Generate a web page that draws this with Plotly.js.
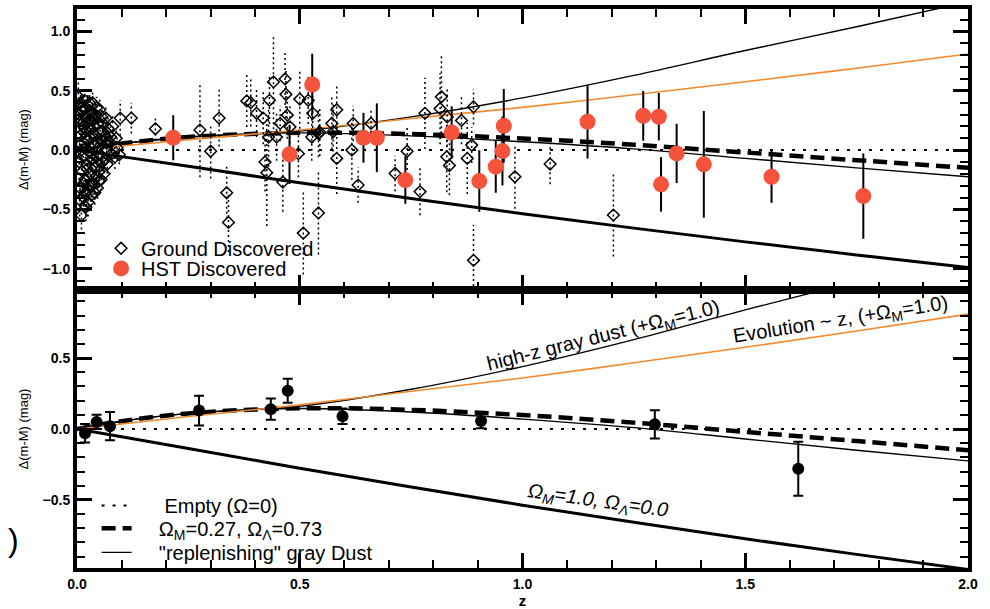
<!DOCTYPE html>
<html><head><meta charset="utf-8">
<script src="https://cdn.plot.ly/plotly-3.0.1.min.js"></script>
<style>html,body{margin:0;padding:0;background:#fff}</style>
</head><body><div id="chart" style="width:990px;height:609px"></div>
<script>
// ---- model curves ----
const zCurve    = [0, 0.1, 0.25, 0.5, 0.75, 1.0, 1.25, 1.5, 1.75, 2.0];
const empty     = [0, 0, 0, 0, 0, 0, 0, 0, 0, 0];
const lcdm      = [0, 0.055, 0.11, 0.146, 0.135, 0.098, 0.045, -0.02, -0.085, -0.15];
const replenish = [0, 0.055, 0.11, 0.145, 0.12, 0.07, 0.01, -0.07, -0.15, -0.225];
const omegaM1   = [0, -0.055, -0.137, -0.276, -0.409, -0.537, -0.658, -0.774, -0.884, -0.99];
const highzDust = [0, 0.055, 0.11, 0.16, 0.28, 0.44, 0.63, 0.84, 1.04, 1.25];
const evolution = [0, 0.035, 0.088, 0.17, 0.266, 0.36, 0.467, 0.576, 0.691, 0.81];

// ---- ground discovered SNe (top panel) ----
const groundZ = [0.004,0.005,0.006,0.007,0.008,0.009,0.010,0.011,0.012,0.013,0.014,0.015,0.016,0.017,0.018,0.019,0.020,0.021,0.022,0.023,0.024,0.025,0.026,0.027,0.028,0.029,0.030,0.031,0.032,0.033,0.034,0.035,0.036,0.037,0.038,0.039,0.040,0.041,0.042,0.043,0.044,0.045,0.046,0.047,0.048,0.050,0.051,0.052,0.054,0.055,0.056,0.058,0.060,0.061,0.063,0.065,0.066,0.068,0.070,0.072,0.075,0.078,0.080,0.085,0.088,0.090,0.095,
  0.003,0.006,0.009,0.012,0.015,0.018,0.021,0.024,0.027,0.030,0.033,0.036,0.039,0.043,0.046,0.049,0.053,0.057,0.062,0.067,0.010,0.014,0.019,0.023,0.028,
  0.097,0.122,0.176,0.276,0.300,0.319,0.336,0.340,0.381,0.390,0.403,0.418,0.422,0.426,0.432,0.441,0.430,0.448,0.456,0.462,0.467,0.469,0.472,0.478,0.497,0.500,0.519,0.529,0.527,0.542,0.508,0.542,0.583,0.583,0.572,0.575,0.545,0.617,0.620,0.631,0.660,0.714,0.741,0.770,0.781,0.815,0.818,0.831,0.830,0.836,0.863,0.876,0.886,0.890,0.890,0.983,1.062,1.204];
const groundV = [0.30,-0.10,0.12,-0.32,0.40,0.05,-0.55,0.22,-0.18,0.33,-0.05,-0.40,0.15,0.42,-0.25,0.02,-0.48,0.28,-0.12,0.08,0.38,-0.44,-0.30,0.18,-0.02,0.33,-0.20,0.10,-0.38,0.25,-0.08,0.40,-0.28,0.05,0.20,-0.15,-0.36,0.30,0.12,-0.22,0.36,-0.05,-0.32,0.22,0.02,-0.18,0.34,0.15,-0.25,0.08,0.28,-0.10,0.22,-0.20,0.12,0.27,0.00,-0.12,0.18,0.07,0.11,-0.03,0.20,-0.06,0.10,0.02,-0.04,
  0.45,-0.42,0.25,0.36,-0.28,0.10,-0.35,0.24,-0.10,0.30,-0.30,0.14,0.26,-0.10,0.06,-0.26,-0.04,0.16,-0.08,0.06,0.00,0.20,-0.36,-0.16,0.40,
  0.27,0.27,0.18,0.17,-0.01,0.27,-0.36,-0.61,0.415,0.40,0.31,0.27,-0.10,-0.19,0.42,0.575,0.11,0.11,0.225,-0.27,0.60,0.47,0.295,0.196,-0.03,0.43,0.42,0.31,0.11,0.14,-0.70,-0.53,0.34,-0.07,0.225,0.154,0.15,0.00,0.225,-0.295,0.225,-0.197,-0.01,-0.35,0.31,0.35,0.45,0.28,-0.056,-0.13,0.25,-0.07,0.042,0.365,-0.93,-0.225,-0.118,-0.548];
const groundErr = [0.12,0.15,0.12,0.14,0.12,0.10,0.12,0.10,0.12,0.10,0.10,0.12,0.10,0.10,0.10,0.09,0.12,0.10,0.10,0.09,0.10,0.12,0.10,0.09,0.09,0.10,0.10,0.08,0.10,0.09,0.08,0.10,0.10,0.08,0.08,0.08,0.10,0.09,0.08,0.08,0.09,0.08,0.09,0.08,0.08,0.08,0.10,0.08,0.09,0.08,0.08,0.08,0.08,0.08,0.08,0.09,0.08,0.08,0.09,0.08,0.09,0.08,0.10,0.10,0.08,0.10,0.08,
  0.15,0.14,0.12,0.12,0.12,0.10,0.12,0.10,0.10,0.10,0.10,0.09,0.09,0.10,0.08,0.10,0.08,0.09,0.08,0.08,0.10,0.10,0.12,0.10,0.12,
  0.15,0.13,0.10,0.40,0.23,0.24,0.22,0.25,0.22,0.20,0.20,0.22,0.25,0.45,0.20,0.40,0.25,0.20,0.15,0.25,0.22,0.20,0.20,0.18,0.20,0.25,0.20,0.25,0.20,0.20,0.35,0.35,0.20,0.30,0.22,0.25,0.20,0.25,0.15,0.15,0.12,0.15,0.20,0.20,0.30,0.30,0.35,0.25,0.30,0.25,0.20,0.30,0.15,0.15,0.30,0.27,0.17,0.35];

// ---- HST discovered SNe (top panel) ----
const hstZ   = [0.216,0.477,0.528,0.643,0.673,0.737,0.841,0.903,0.940,0.955,0.958,1.146,1.271,1.306,1.311,1.346,1.407,1.559,1.765];
const hstV   = [0.104,-0.036,0.553,0.104,0.104,-0.253,0.149,-0.261,-0.14,-0.008,0.205,0.239,0.289,0.281,-0.289,-0.028,-0.12,-0.225,-0.388];
const hstErr = [0.19,0.25,0.26,0.21,0.29,0.20,0.22,0.26,0.22,0.29,0.31,0.31,0.21,0.20,0.23,0.25,0.45,0.22,0.36];

// ---- binned data (bottom panel) ----
const binZ   = [0.018,0.044,0.074,0.274,0.435,0.473,0.596,0.907,1.297,1.619];
const binV   = [-0.03,0.05,0.02,0.13,0.14,0.27,0.09,0.056,0.033,-0.28];
const binErr = [0.065,0.05,0.10,0.105,0.075,0.085,0.055,0.05,0.10,0.19];

const FONT = 'Liberation Sans, Arial, Helvetica, sans-serif';

function curves(xa, ya, legendOn) {
  return [
    {x: zCurve, y: empty, xaxis: xa, yaxis: ya, mode: 'lines', name: '\u00a0\u00a0\u00a0\u00a0\u00a0Empty (\u03a9=0)',
     line: {color: 'black', width: 2, dash: '3px,8px'}, showlegend: legendOn, legend: 'legend3'},
    {x: zCurve, y: lcdm, xaxis: xa, yaxis: ya, mode: 'lines', line: {color: 'black', width: 4.5, dash: '14px,7px', shape: 'spline'},
     name: '\u00a0\u00a0\u00a0\u00a0\u03a9<sub>M</sub>=0.27, \u03a9<sub>\u039b</sub>=0.73', showlegend: legendOn, legend: 'legend4'},
    {x: zCurve, y: replenish, xaxis: xa, yaxis: ya, mode: 'lines', line: {color: 'black', width: 1.4, shape: 'spline'},
     name: '\u00a0\u00a0\u00a0\u00a0"replenishing" gray Dust', showlegend: legendOn, legend: 'legend5'},
    {x: zCurve, y: omegaM1, xaxis: xa, yaxis: ya, mode: 'lines', line: {color: 'black', width: 3, shape: 'spline'}, showlegend: false},
    {x: zCurve, y: highzDust, xaxis: xa, yaxis: ya, mode: 'lines', line: {color: 'black', width: 1.4, shape: 'spline'}, showlegend: false},
    {x: zCurve, y: evolution, xaxis: xa, yaxis: ya, mode: 'lines', line: {color: '#F08A2C', width: 1.6, shape: 'spline'}, showlegend: false}
  ];
}

// dotted error bars for ground SNe, built from the arrays
const gx = [], gy = [];
groundZ.forEach((z, i) => { gx.push(z, z, null); gy.push(groundV[i] - groundErr[i], groundV[i] + groundErr[i], null); });

const traces = [].concat(
  curves('x2', 'y2', false),
  [{x: gx, y: gy, xaxis: 'x2', yaxis: 'y2', mode: 'lines', line: {color: 'black', width: 1.5, dash: '2px,3px'}, showlegend: false, connectgaps: false},
   {x: groundZ, y: groundV, xaxis: 'x2', yaxis: 'y2', mode: 'markers', name: 'Ground Discovered', legend: 'legend',
    marker: {symbol: 'diamond-open', size: 9, color: 'black', line: {width: 1.5, color: 'black'}}},
   {x: hstZ, y: hstV, xaxis: 'x2', yaxis: 'y2', mode: 'markers', name: 'HST Discovered', legend: 'legend2',
    error_y: {type: 'data', array: hstErr, visible: true, color: 'black', thickness: 2, width: 0},
    marker: {symbol: 'circle', size: 16, color: '#F5533B'}}],
  curves('x', 'y', true),
  [{x: binZ, y: binV, xaxis: 'x', yaxis: 'y', mode: 'markers', showlegend: false,
    error_y: {type: 'data', array: binErr, visible: true, color: 'black', thickness: 2, width: 5},
    marker: {symbol: 'circle', size: 12, color: 'black'}}]
);

const axisCommon = {
  showline: true, linewidth: 4, linecolor: 'black', mirror: 'allticks',
  ticks: 'inside', ticklen: 15, tickwidth: 3, tickcolor: 'black',
  showgrid: false, zeroline: false,
  tickfont: {family: FONT, size: 14, weight: 'bold', color: 'black'},
  minor: {ticks: 'inside', ticklen: 8, tickwidth: 2, tickcolor: 'black'}
};

const legendCommon = {bgcolor: 'rgba(0,0,0,0)', borderwidth: 0, font: {family: FONT, size: 20, color: 'black'},
  xanchor: 'left', yanchor: 'middle', tracegroupgap: 0};

const layout = {
  width: 990, height: 609,
  margin: {l: 77, r: 22, t: 9, b: 41},
  paper_bgcolor: 'white', plot_bgcolor: 'white',
  font: {family: FONT, color: 'black'},
  xaxis: Object.assign({}, axisCommon, {domain: [0, 1], range: [0, 2], anchor: 'y', tick0: 0, dtick: 0.5, tickformat: '.1f',
    minor: Object.assign({}, axisCommon.minor, {dtick: 0.1}),
    title: {text: 'z', font: {family: FONT, size: 15, weight: 'bold'}, standoff: 4}}),
  yaxis: Object.assign({}, axisCommon, {domain: [0, 0.4973], range: [-0.98, 0.98], anchor: 'x', tick0: 0, dtick: 0.5, tickformat: '.1f',
    minor: Object.assign({}, axisCommon.minor, {dtick: 0.1}),
    title: {text: '\u0394(m-M) (mag)', font: {family: FONT, size: 13}, standoff: 12}}),
  xaxis2: Object.assign({}, axisCommon, {domain: [0, 1], range: [0, 2], anchor: 'y2', matches: 'x', tick0: 0, dtick: 0.5, showticklabels: false,
    minor: Object.assign({}, axisCommon.minor, {dtick: 0.1})}),
  yaxis2: Object.assign({}, axisCommon, {domain: [0.4973, 1], range: [-1.18, 1.19], anchor: 'x2', tick0: 0, dtick: 0.5, tickformat: '.1f',
    minor: Object.assign({}, axisCommon.minor, {dtick: 0.1}),
    title: {text: '\u0394(m-M) (mag)', font: {family: FONT, size: 13}, standoff: 12}}),
  legend:  Object.assign({}, legendCommon, {x: 0.027, y: 0.572}),
  legend2: Object.assign({}, legendCommon, {x: 0.027, y: 0.536}),
  legend3: Object.assign({}, legendCommon, {x: 0.022, y: 0.112}),
  legend4: Object.assign({}, legendCommon, {x: 0.022, y: 0.071}),
  legend5: Object.assign({}, legendCommon, {x: 0.022, y: 0.028}),
  annotations: [
    {xref: 'x', yref: 'y', x: 1.181, y: 0.652, text: 'high-z gray dust (+\u03a9<sub>M</sub>=1.0)', showarrow: false,
     textangle: -14, font: {family: FONT, size: 20, color: 'black'}},
    {xref: 'x', yref: 'y', x: 1.713, y: 0.765, text: 'Evolution ~ z, (+\u03a9<sub>M</sub>=1.0)', showarrow: false,
     textangle: -9, font: {family: FONT, size: 20, color: 'black'}},
    {xref: 'x', yref: 'y', x: 1.169, y: -0.514, text: '\u03a9<sub>M</sub>=1.0, \u03a9<sub>\u039b</sub>=0.0', showarrow: false,
     textangle: 8, font: {family: FONT, size: 20, color: 'black', style: 'italic'}},
    {xref: 'paper', yref: 'paper', x: -0.08, y: 0.014, text: ')', showarrow: false,
     font: {family: FONT, size: 32, color: 'black'}}
  ]
};

Plotly.newPlot('chart', traces, layout, {displayModeBar: false, staticPlot: true});
</script>
</body></html>
